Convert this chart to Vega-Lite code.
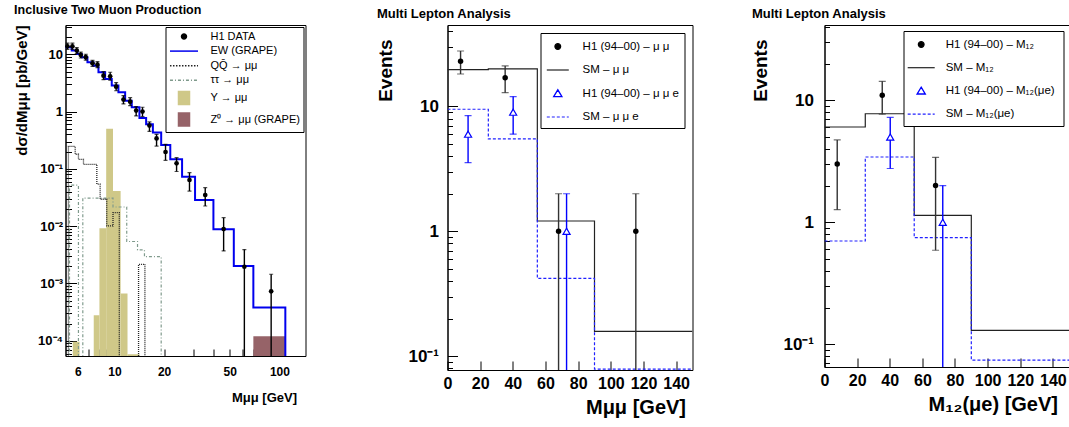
{
  "$schema": "https://vega.github.io/schema/vega-lite/v6.json",
  "background": "white",
  "padding": {"left": 13.5, "top": 3, "right": 0, "bottom": 0},
  "config": {
    "font": "Liberation Sans",
    "view": {"stroke": "black", "strokeWidth": 1},
    "axis": {
      "grid": false, "domainColor": "black", "tickColor": "black", "tickWidth": 1,
      "labelColor": "black", "labelFont": "Liberation Sans", "labelFontWeight": "bold",
      "titleFont": "Liberation Sans", "titleFontWeight": "bold", "titleColor": "black",
      "labelFlush": false, "labelOverlap": false, "labelBound": false
    },
    "title": {"font": "Liberation Sans", "fontWeight": "bold", "anchor": "start", "color": "black"},
    "legend": {"fillColor": "white", "strokeColor": "black", "labelFont": "Liberation Sans", "labelColor": "black", "labelLimit": 300}
  },
  "datasets": {
    "p1d": [
      {"x": 5.19, "y": 13.8, "lo": 12.2, "hi": 15.6},
      {"x": 5.56, "y": 13.8, "lo": 12.2, "hi": 15.6},
      {"x": 5.91, "y": 11.6, "lo": 10.3, "hi": 13.1},
      {"x": 6.25, "y": 9.7, "lo": 8.6, "hi": 10.9},
      {"x": 6.70, "y": 8.9, "lo": 7.9, "hi": 10.0},
      {"x": 7.36, "y": 6.96, "lo": 6.17, "hi": 7.85},
      {"x": 7.89, "y": 6.59, "lo": 5.84, "hi": 7.43},
      {"x": 8.58, "y": 4.23, "lo": 3.6, "hi": 4.97},
      {"x": 9.42, "y": 4.13, "lo": 3.52, "hi": 4.85},
      {"x": 10.24, "y": 2.72, "lo": 2.31, "hi": 3.2},
      {"x": 11.34, "y": 1.62, "lo": 1.36, "hi": 1.9},
      {"x": 12.45, "y": 1.49, "lo": 1.27, "hi": 1.75},
      {"x": 13.54, "y": 1.04, "lo": 0.84, "hi": 1.22},
      {"x": 14.79, "y": 1.0, "lo": 0.82, "hi": 1.19},
      {"x": 16.3, "y": 0.57, "lo": 0.45, "hi": 0.66},
      {"x": 18.0, "y": 0.34, "lo": 0.25, "hi": 0.40},
      {"x": 20.4, "y": 0.197, "lo": 0.141, "hi": 0.268},
      {"x": 23.8, "y": 0.125, "lo": 0.09, "hi": 0.157},
      {"x": 28.5, "y": 0.064, "lo": 0.041, "hi": 0.086},
      {"x": 35.5, "y": 0.035, "lo": 0.0225, "hi": 0.047},
      {"x": 45.9, "y": 0.0089, "lo": 0.0037, "hi": 0.0141},
      {"x": 61.3, "y": 0.00196, "lo": 0.000001, "hi": 0.0039},
      {"x": 89.1, "y": 0.00073, "lo": 0.000001, "hi": 0.00145}
    ],
    "p1ew": [
      {"i": 0, "x": 5.0, "y": 13.2}, {"i": 1, "x": 5.51, "y": 11.6}, {"i": 2, "x": 5.97, "y": 10.1},
      {"i": 3, "x": 6.34, "y": 8.9}, {"i": 4, "x": 6.86, "y": 7.25}, {"i": 5, "x": 7.46, "y": 6.3},
      {"i": 6, "x": 8.0, "y": 4.85}, {"i": 7, "x": 8.78, "y": 3.7}, {"i": 8, "x": 9.63, "y": 2.84},
      {"i": 9, "x": 10.57, "y": 2.17}, {"i": 10, "x": 11.61, "y": 1.55}, {"i": 11, "x": 12.73, "y": 1.19},
      {"i": 12, "x": 14.17, "y": 0.77}, {"i": 13, "x": 15.56, "y": 0.60}, {"i": 14, "x": 17.1, "y": 0.43},
      {"i": 15, "x": 19.2, "y": 0.261}, {"i": 16, "x": 21.8, "y": 0.147}, {"i": 17, "x": 25.7, "y": 0.073},
      {"i": 18, "x": 30.8, "y": 0.0286}, {"i": 19, "x": 39.8, "y": 0.00883}, {"i": 20, "x": 52.9, "y": 0.00202},
      {"i": 21, "x": 69.5, "y": 0.00038}, {"i": 22, "x": 108.6, "y": 0.00038}, {"i": 23, "x": 108.6, "y": 0.000001}
    ],
    "p1qq": [
      {"i": 0, "x": 5.26, "y": 0.000001}, {"i": 1, "x": 5.26, "y": 0.246}, {"i": 2, "x": 5.78, "y": 0.18},
      {"i": 3, "x": 6.05, "y": 0.147}, {"i": 4, "x": 6.49, "y": 0.12}, {"i": 5, "x": 7.82, "y": 0.054},
      {"i": 6, "x": 8.19, "y": 0.0295}, {"i": 7, "x": 8.98, "y": 0.0101}, {"i": 8, "x": 9.8, "y": 0.0172},
      {"i": 9, "x": 10.7, "y": 0.000001}, {"i": 10, "x": 14.0, "y": 0.00216}, {"i": 11, "x": 15.3, "y": 0.000001}
    ],
    "p1tt": [
      {"i": 0, "x": 5.34, "y": 0.000001}, {"i": 1, "x": 5.34, "y": 0.052}, {"i": 2, "x": 6.05, "y": 0.000001},
      {"i": 3, "x": 6.43, "y": 0.031}, {"i": 4, "x": 9.8, "y": 0.0216}, {"i": 5, "x": 11.87, "y": 0.0054},
      {"i": 6, "x": 13.8, "y": 0.00385}, {"i": 7, "x": 15.2, "y": 0.00294}, {"i": 8, "x": 19.2, "y": 0.000001}
    ],
    "p1ups": [
      {"x": 5.59, "x2": 6.14, "y": 0.000096},
      {"x": 7.49, "x2": 8.11, "y": 0.00028},
      {"x": 8.11, "x2": 8.91, "y": 0.0092},
      {"x": 8.91, "x2": 9.8, "y": 0.50},
      {"x": 9.8, "x2": 10.9, "y": 0.041},
      {"x": 10.9, "x2": 12.0, "y": 0.00067},
      {"x": 12.0, "x2": 14.2, "y": 0.000058}
    ],
    "p1z": [{"x": 69.5, "x2": 108.6, "y": 0.00012}],
    "p2a": [
      {"x": 8, "y": 23, "lo": 18.2, "hi": 27.8},
      {"x": 35.3, "y": 17, "lo": 12.9, "hi": 21.1},
      {"x": 68, "y": 1, "lo": 0.001, "hi": 2},
      {"x": 115.3, "y": 1, "lo": 0.001, "hi": 2}
    ],
    "p2b": [
      {"x": 12.6, "y": 6, "lo": 3.55, "hi": 8.45},
      {"x": 40.2, "y": 9, "lo": 6, "hi": 12},
      {"x": 72.9, "y": 1, "lo": 0.001, "hi": 2}
    ],
    "p2sm": [{"x": 0, "y": 19.7}, {"x": 25, "y": 20}, {"x": 55, "y": 1.21}, {"x": 90, "y": 0.158}, {"x": 150, "y": 0.158}],
    "p2sme": [{"x": 0, "y": 9.5}, {"x": 25, "y": 5.5}, {"x": 55, "y": 0.42}, {"x": 90, "y": 0.079}, {"x": 150, "y": 0.079}],
    "p3a": [
      {"x": 7.8, "y": 3, "lo": 1.27, "hi": 4.73},
      {"x": 35.4, "y": 11, "lo": 7.7, "hi": 14.3},
      {"x": 68.1, "y": 2, "lo": 0.59, "hi": 3.41}
    ],
    "p3b": [
      {"x": 40.3, "y": 5, "lo": 2.76, "hi": 7.24},
      {"x": 72.5, "y": 1, "lo": 0.001, "hi": 2}
    ],
    "p3sm": [{"x": 0, "y": 6.04}, {"x": 25, "y": 7.76}, {"x": 55, "y": 1.14}, {"x": 90, "y": 0.13}, {"x": 150.2, "y": 0.13}],
    "p3sme": [{"x": 0, "y": 0.703}, {"x": 25, "y": 3.43}, {"x": 55, "y": 0.748}, {"x": 90, "y": 0.0743}, {"x": 150.2, "y": 0.0743}]
  },
  "bounds": "flush",
  "spacing": 142,
  "resolve": {"scale": {"color": "independent"}, "legend": {"color": "independent"}},
  "hconcat": [
    {
      "width": 240,
      "height": 331,
      "title": {"text": "Inclusive Two Muon Production", "fontSize": 12.5, "offset": 8.7},
      "encoding": {
        "x": {
          "field": "x", "type": "quantitative",
          "scale": {"type": "log", "domain": [5.05, 143.9], "nice": false},
          "axis": {
            "values": [6, 7, 8, 9, 10, 20, 30, 40, 50, 60, 70, 80, 90, 100],
            "labelExpr": "indexof([6, 10, 20, 50, 100], datum.value) >= 0 ? '' + datum.value : ''",
            "tickSize": -7, "labelPadding": 17, "labelFontSize": 12,
            "title": "Mμμ  [GeV]", "titleFontSize": 13, "titleAnchor": "end", "titleAlign": "right", "titleX": 231, "titlePadding": 14
          }
        },
        "y": {
          "field": "y", "type": "quantitative",
          "scale": {"type": "log", "domain": [0.0000543, 32.4], "nice": false},
          "axis": {
            "values": [0.00006, 0.00007, 0.00008, 0.00009, 0.0001, 0.0002, 0.0003, 0.0004, 0.0005, 0.0006, 0.0007, 0.0008, 0.0009, 0.001, 0.002, 0.003, 0.004, 0.005, 0.006, 0.007, 0.008, 0.009, 0.01, 0.02, 0.03, 0.04, 0.05, 0.06, 0.07, 0.08, 0.09, 0.1, 0.2, 0.3, 0.4, 0.5, 0.6, 0.7, 0.8, 0.9, 1, 2, 3, 4, 5, 6, 7, 8, 9, 10, 20, 30],
            "labelExpr": "abs(datum.value-10)<1e-9 ? '10' : abs(datum.value-1)<1e-9 ? '1' : abs(datum.value-0.1)<1e-9 ? '10⁻¹' : abs(datum.value-0.01)<1e-9 ? '10⁻²' : abs(datum.value-0.001)<1e-9 ? '10⁻³' : abs(datum.value-0.0001)<1e-9 ? '10⁻⁴' : ''",
            "tickSize": {"condition": {"test": "abs(log(datum.value)/LN10 - round(log(datum.value)/LN10)) < 0.001", "value": -11}, "value": -6},
            "labelFontSize": {"condition": {"test": "abs(log(datum.value)/LN10 - round(log(datum.value)/LN10)) < 0.001", "value": 13}, "value": 1},
            "labelPadding": 14,
            "title": "dσ/dMμμ  [pb/GeV]", "titleFontSize": 15, "titleAnchor": "end", "titlePadding": 8.5
          }
        }
      },
      "layer": [
        {
          "data": {"name": "p1ups"},
          "mark": {"type": "rect", "clip": true},
          "encoding": {
            "x2": {"field": "x2"},
            "y2": {"datum": 0.000001},
            "color": {"datum": "Υ → μμ", "type": "nominal"}
          }
        },
        {
          "data": {"name": "p1z"},
          "mark": {"type": "rect", "clip": true},
          "encoding": {
            "x2": {"field": "x2"},
            "y2": {"datum": 0.000001},
            "color": {"datum": "Z⁰ → μμ (GRAPE)", "type": "nominal"}
          }
        },
        {
          "data": {"name": "p1tt"},
          "mark": {"type": "line", "interpolate": "step-after", "clip": true, "strokeDash": [3, 2, 1, 2], "strokeWidth": 1.2},
          "encoding": {
            "order": {"field": "i", "type": "quantitative"},
            "color": {"datum": "ττ → μμ", "type": "nominal"}
          }
        },
        {
          "data": {"name": "p1qq"},
          "mark": {"type": "line", "interpolate": "step-after", "clip": true, "strokeDash": [1, 1], "strokeWidth": 1.3},
          "encoding": {
            "order": {"field": "i", "type": "quantitative"},
            "color": {"datum": "QQ̄ → μμ", "type": "nominal"}
          }
        },
        {
          "data": {"name": "p1ew"},
          "mark": {"type": "line", "interpolate": "step-after", "clip": true, "strokeWidth": 2},
          "encoding": {
            "order": {"field": "i", "type": "quantitative"},
            "color": {
              "datum": "EW (GRAPE)", "type": "nominal",
              "scale": {"domain": ["H1 DATA", "EW (GRAPE)", "QQ̄ → μμ", "ττ → μμ", "Υ → μμ", "Z⁰ → μμ (GRAPE)"], "range": ["black", "#0000ee", "#222222", "#7f9a8c", "#cfc888", "#966368"]},
              "legend": {
                "title": null, "orient": "top-right", "offset": 2, "padding": 3,
                "fillColor": "white", "strokeColor": "black",
                "symbolSize": 121, "symbolStrokeWidth": 1.5, "rowPadding": 2.6,
                "symbolOffset": 9, "labelFontSize": 11, "labelOffset": 20,
                "encode": {"symbols": {"update": {
                  "shape": {"signal": "['M-0.45,0A0.45,0.45,0,1,0,0.45,0A0.45,0.45,0,1,0,-0.45,0Z','M-2.55,0H2.55','M-2.55,0H2.55','M-2.55,0H2.55','M-1,-1.18H1V1.18H-1Z','M-1,-1.18H1V1.18H-1Z'][datum.index]"},
                  "size": {"value": 121},
                  "fill": {"signal": "['black','transparent','transparent','transparent','#cfc888','#966368'][datum.index]"},
                  "stroke": {"signal": "['transparent','#0000ee','#111111','#7f9a8c','transparent','transparent'][datum.index]"},
                  "strokeWidth": {"value": 1.5},
                  "strokeDash": {"signal": "[[],[],[1.5,1.5],[3,2,1,2],[],[]][datum.index]"},
                  "opacity": {"value": 1}
                }}}
              }
            }
          }
        },
        {
          "data": {"name": "p1d"},
          "mark": {"type": "rule", "color": "black", "strokeWidth": 1.4, "clip": true},
          "encoding": {"y2": {"field": "hi"}}
        },
        {
          "data": {"name": "p1d"},
          "mark": {"type": "rule", "color": "black", "strokeWidth": 1.4, "clip": true},
          "encoding": {"y2": {"field": "lo"}}
        },
        {
          "data": {"name": "p1d"},
          "transform": [{"fold": ["lo", "hi"], "as": ["k", "y"]}],
          "mark": {"type": "tick", "orient": "horizontal", "color": "black", "size": 4, "thickness": 1.2, "clip": true}
        },
        {
          "data": {"name": "p1d"},
          "mark": {"type": "point", "shape": "circle", "filled": true, "size": 22, "opacity": 1},
          "encoding": {"color": {"datum": "H1 DATA", "type": "nominal"}}
        }
      ]
    },
    {
      "bounds": "flush",
      "spacing": 132,
      "resolve": {"scale": {"color": "independent"}, "legend": {"color": "independent"}},
      "hconcat": [
        {
          "width": 245,
          "height": 345,
          "title": {"text": "Multi Lepton Analysis", "fontSize": 13, "offset": 4.2},
          "encoding": {
            "x": {
              "field": "x", "type": "quantitative",
              "scale": {"domain": [0, 150], "nice": false, "zero": false},
              "axis": {
                "values": [0, 20, 40, 60, 80, 100, 120, 140],
                "tickSize": -9, "labelPadding": 14, "labelFontSize": 16,
                "title": "Mμμ  [GeV]", "titleFontSize": 20, "titleAnchor": "end", "titleAlign": "right", "titleX": 238, "titlePadding": 6
              }
            },
            "y": {
              "field": "y", "type": "quantitative",
              "scale": {"type": "log", "domain": [0.0776, 44.9], "nice": false},
              "axis": {
                "values": [0.08, 0.09, 0.1, 0.2, 0.3, 0.4, 0.5, 0.6, 0.7, 0.8, 0.9, 1, 2, 3, 4, 5, 6, 7, 8, 9, 10, 20, 30, 40],
                "labelExpr": "abs(datum.value-10)<1e-9 ? '10' : abs(datum.value-1)<1e-9 ? '1' : abs(datum.value-0.1)<1e-9 ? '10⁻¹' : ''",
                "tickSize": {"condition": {"test": "abs(log(datum.value)/LN10 - round(log(datum.value)/LN10)) < 0.001", "value": -10}, "value": -5},
                "labelFontSize": {"condition": {"test": "abs(log(datum.value)/LN10 - round(log(datum.value)/LN10)) < 0.001", "value": 17}, "value": 1},
                "labelPadding": 19,
                "title": "Events", "titleFontSize": 19, "titleAnchor": "end", "titleAlign": "right", "titleY": 14, "titlePadding": 12
              }
            }
          },
          "layer": [
            {
              "data": {"name": "p2sm"},
              "mark": {"type": "line", "interpolate": "step-after", "clip": true, "strokeWidth": 1.2},
              "encoding": {
                "color": {
                  "datum": "SM – μ μ", "type": "nominal",
                  "scale": {"domain": ["H1 (94–00) – μ μ", "SM – μ μ", "H1 (94–00) – μ μ e", "SM – μ μ e"], "range": ["black", "#222222", "#0000ff", "#2020ff"]},
                  "legend": {
                    "title": null, "orient": "top-right", "offset": 8, "padding": 5.5,
                    "symbolSize": 196, "symbolStrokeWidth": 1.2, "rowPadding": 9.5,
                    "symbolOffset": 3.8, "labelFontSize": 11.5, "labelOffset": 16.8,
                    "encode": {"symbols": {"update": {
                      "shape": {"signal": "['M-0.41,0A0.41,0.41,0,1,0,0.41,0A0.41,0.41,0,1,0,-0.41,0Z','M-1.57,0H1.57','M0,-0.55L0.6,0.45L-0.6,0.45Z M0,-0.52L-0.565,0.43L0.565,0.43Z','M-1.57,0H1.57'][datum.index]"},
                      "size": {"value": 196},
                      "fill": {"signal": "['black','transparent','#0000ff','transparent'][datum.index]"},
                      "stroke": {"signal": "['transparent','#222222','#0000ff','#2020ff'][datum.index]"},
                      "strokeWidth": {"value": 1.2},
                      "strokeDash": {"signal": "[[],[],[],[3,2]][datum.index]"},
                      "opacity": {"value": 1}
                    }}}
                  }
                }
              }
            },
            {
              "data": {"name": "p2sme"},
              "mark": {"type": "line", "interpolate": "step-after", "clip": true, "strokeWidth": 1.2, "strokeDash": [3, 2]},
              "encoding": {"color": {"datum": "SM – μ μ e", "type": "nominal"}}
            },
            {
              "data": {"name": "p2a"},
              "mark": {"type": "rule", "color": "#333333", "strokeWidth": 1.4, "clip": true},
              "encoding": {"y2": {"field": "hi"}}
            },
            {
              "data": {"name": "p2a"},
              "mark": {"type": "rule", "color": "#333333", "strokeWidth": 1.4, "clip": true},
              "encoding": {"y2": {"field": "lo"}}
            },
            {
              "data": {"name": "p2a"},
              "transform": [{"fold": ["lo", "hi"], "as": ["k", "y"]}],
              "mark": {"type": "tick", "orient": "horizontal", "color": "#333333", "size": 7, "thickness": 1.2, "clip": true}
            },
            {
              "data": {"name": "p2b"},
              "mark": {"type": "rule", "color": "#0000ff", "strokeWidth": 1.4, "clip": true},
              "encoding": {"y2": {"field": "hi"}}
            },
            {
              "data": {"name": "p2b"},
              "mark": {"type": "rule", "color": "#0000ff", "strokeWidth": 1.4, "clip": true},
              "encoding": {"y2": {"field": "lo"}}
            },
            {
              "data": {"name": "p2b"},
              "transform": [{"fold": ["lo", "hi"], "as": ["k", "y"]}],
              "mark": {"type": "tick", "orient": "horizontal", "color": "#0000ff", "size": 7, "thickness": 1.2, "clip": true}
            },
            {
              "data": {"name": "p2a"},
              "mark": {"type": "point", "shape": "circle", "filled": true, "size": 30, "opacity": 1},
              "encoding": {"color": {"datum": "H1 (94–00) – μ μ", "type": "nominal"}}
            },
            {
              "data": {"name": "p2b"},
              "mark": {"type": "point", "shape": "triangle-up", "filled": false, "fill": "white", "size": 50, "strokeWidth": 1.2, "opacity": 1},
              "encoding": {"color": {"datum": "H1 (94–00) – μ μ e", "type": "nominal"}}
            }
          ]
        },
        {
          "width": 245,
          "height": 342,
          "title": {"text": "Multi Lepton Analysis", "fontSize": 13, "offset": 4.2},
          "encoding": {
            "x": {
              "field": "x", "type": "quantitative",
              "scale": {"domain": [0, 150.2], "nice": false, "zero": false},
              "axis": {
                "values": [0, 20, 40, 60, 80, 100, 120, 140],
                "tickSize": -9, "labelPadding": 14, "labelFontSize": 16,
                "title": "M₁₂(μe)  [GeV]", "titleFontSize": 20, "titleAnchor": "end", "titleAlign": "right", "titleX": 233, "titlePadding": 6
              }
            },
            "y": {
              "field": "y", "type": "quantitative",
              "scale": {"type": "log", "domain": [0.0652, 41.4], "nice": false},
              "axis": {
                "values": [0.07, 0.08, 0.09, 0.1, 0.2, 0.3, 0.4, 0.5, 0.6, 0.7, 0.8, 0.9, 1, 2, 3, 4, 5, 6, 7, 8, 9, 10, 20, 30, 40],
                "labelExpr": "abs(datum.value-10)<1e-9 ? '10' : abs(datum.value-1)<1e-9 ? '1' : abs(datum.value-0.1)<1e-9 ? '10⁻¹' : ''",
                "tickSize": {"condition": {"test": "abs(log(datum.value)/LN10 - round(log(datum.value)/LN10)) < 0.001", "value": -10}, "value": -5},
                "labelFontSize": {"condition": {"test": "abs(log(datum.value)/LN10 - round(log(datum.value)/LN10)) < 0.001", "value": 17}, "value": 1},
                "labelPadding": 21,
                "title": "Events", "titleFontSize": 19, "titleAnchor": "end", "titleAlign": "right", "titleY": 14, "titlePadding": 12
              }
            }
          },
          "layer": [
            {
              "data": {"name": "p3sm"},
              "mark": {"type": "line", "interpolate": "step-after", "clip": true, "strokeWidth": 1.2},
              "encoding": {
                "color": {
                  "datum": "SM –  M₁₂", "type": "nominal",
                  "scale": {"domain": ["H1 (94–00) –  M₁₂", "SM –  M₁₂", "H1 (94–00) –  M₁₂(μe)", "SM –  M₁₂(μe)"], "range": ["black", "#222222", "#0000ff", "#2020ff"]},
                  "legend": {
                    "title": null, "orient": "top-right", "offset": 6, "padding": 5.5,
                    "symbolSize": 196, "symbolStrokeWidth": 1.2, "rowPadding": 9.2,
                    "symbolOffset": 4.2, "labelFontSize": 11.5, "labelOffset": 16.5,
                    "encode": {"symbols": {"update": {
                      "shape": {"signal": "['M-0.41,0A0.41,0.41,0,1,0,0.41,0A0.41,0.41,0,1,0,-0.41,0Z','M-1.93,0H1.93','M0,-0.55L0.6,0.45L-0.6,0.45Z M0,-0.52L-0.565,0.43L0.565,0.43Z','M-1.93,0H1.93'][datum.index]"},
                      "size": {"value": 196},
                      "fill": {"signal": "['black','transparent','#0000ff','transparent'][datum.index]"},
                      "stroke": {"signal": "['transparent','#222222','#0000ff','#2020ff'][datum.index]"},
                      "strokeWidth": {"value": 1.2},
                      "strokeDash": {"signal": "[[],[],[],[3,2]][datum.index]"},
                      "opacity": {"value": 1}
                    }}}
                  }
                }
              }
            },
            {
              "data": {"name": "p3sme"},
              "mark": {"type": "line", "interpolate": "step-after", "clip": true, "strokeWidth": 1.2, "strokeDash": [3, 2]},
              "encoding": {"color": {"datum": "SM –  M₁₂(μe)", "type": "nominal"}}
            },
            {
              "data": {"name": "p3a"},
              "mark": {"type": "rule", "color": "#333333", "strokeWidth": 1.4, "clip": true},
              "encoding": {"y2": {"field": "hi"}}
            },
            {
              "data": {"name": "p3a"},
              "mark": {"type": "rule", "color": "#333333", "strokeWidth": 1.4, "clip": true},
              "encoding": {"y2": {"field": "lo"}}
            },
            {
              "data": {"name": "p3a"},
              "transform": [{"fold": ["lo", "hi"], "as": ["k", "y"]}],
              "mark": {"type": "tick", "orient": "horizontal", "color": "#333333", "size": 7, "thickness": 1.2, "clip": true}
            },
            {
              "data": {"name": "p3b"},
              "mark": {"type": "rule", "color": "#0000ff", "strokeWidth": 1.4, "clip": true},
              "encoding": {"y2": {"field": "hi"}}
            },
            {
              "data": {"name": "p3b"},
              "mark": {"type": "rule", "color": "#0000ff", "strokeWidth": 1.4, "clip": true},
              "encoding": {"y2": {"field": "lo"}}
            },
            {
              "data": {"name": "p3b"},
              "transform": [{"fold": ["lo", "hi"], "as": ["k", "y"]}],
              "mark": {"type": "tick", "orient": "horizontal", "color": "#0000ff", "size": 7, "thickness": 1.2, "clip": true}
            },
            {
              "data": {"name": "p3a"},
              "mark": {"type": "point", "shape": "circle", "filled": true, "size": 30, "opacity": 1},
              "encoding": {"color": {"datum": "H1 (94–00) –  M₁₂", "type": "nominal"}}
            },
            {
              "data": {"name": "p3b"},
              "mark": {"type": "point", "shape": "triangle-up", "filled": false, "fill": "white", "size": 50, "strokeWidth": 1.2, "opacity": 1},
              "encoding": {"color": {"datum": "H1 (94–00) –  M₁₂(μe)", "type": "nominal"}}
            }
          ]
        }
      ]
    }
  ]
}
